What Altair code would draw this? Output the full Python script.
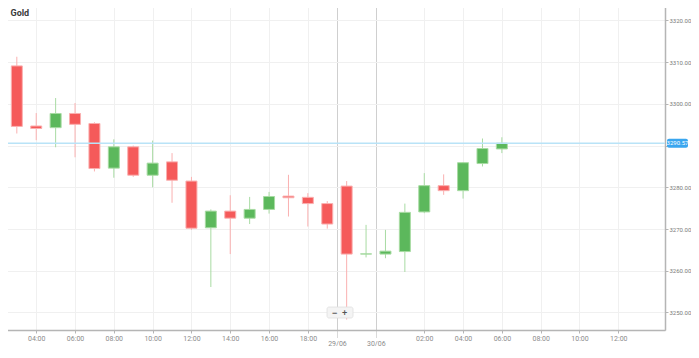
import altair as alt
import pandas as pd

# candle index (hourly bars, session gap after index 16)
candle_idx = list(range(26))
opens  = [3309.1, 3294.7, 3294.3, 3297.7, 3295.3, 3284.6, 3289.7, 3282.9, 3286.1, 3281.5,
          3270.3, 3274.3, 3272.6, 3274.7, 3277.9, 3277.6, 3276.1, 3280.3, 3264.0, 3264.0,
          3264.6, 3274.1, 3280.4, 3279.2, 3285.7, 3289.2]
highs  = [3311.3, 3297.8, 3301.4, 3300.2, 3295.6, 3291.5, 3290.0, 3291.2, 3288.2, 3282.5,
          3274.7, 3278.1, 3277.7, 3278.9, 3283.0, 3278.6, 3276.7, 3281.5, 3271.0, 3269.8,
          3276.1, 3283.4, 3283.1, 3286.0, 3291.7, 3292.0]
lows   = [3292.9, 3291.3, 3289.6, 3287.2, 3283.8, 3282.3, 3282.5, 3280.0, 3276.3, 3269.8,
          3256.1, 3264.0, 3271.2, 3273.7, 3273.0, 3270.6, 3270.1, 3248.3, 3263.2, 3263.0,
          3259.7, 3273.8, 3278.2, 3277.3, 3285.0, 3288.2]
closes = [3294.6, 3294.1, 3297.7, 3295.1, 3284.5, 3289.7, 3282.9, 3285.8, 3281.7, 3270.2,
          3274.3, 3272.6, 3274.7, 3277.8, 3277.5, 3276.1, 3271.2, 3264.0, 3264.05, 3264.7,
          3274.0, 3280.4, 3279.2, 3285.9, 3289.3, 3290.57]

tick_pos = [1, 3, 5, 7, 9, 11, 13, 15, 16.5, 18.5, 21, 23, 25, 27, 29, 31]
tick_lab = ["04:00", "06:00", "08:00", "10:00", "12:00", "14:00", "16:00", "18:00",
            "29/06", "30/06", "02:00", "04:00", "06:00", "08:00", "10:00", "12:00"]
divider_pos = [16.5, 18.5]

price_ticks = [3250, 3260, 3270, 3280, 3290, 3300, 3310, 3320]
current_price = [3290.57]
title_text = "Gold"

GREEN, RED = "#5cb85c", "#f55a5a"
GREEN_L, RED_L = "#a8dba3", "#fab0b0"

df = pd.DataFrame({"i": candle_idx, "open": opens, "high": highs, "low": lows, "close": closes})
df["dir"] = ["up" if c >= o else "down" for o, c in zip(opens, closes)]

W, H = 664, 330
x_dom = [-0.558, 33.15]
y_dom = [3245.8, 3324.9]

pos_js = "[" + ",".join(str(p) for p in tick_pos) + "]"
lab_js = "[" + ",".join("'" + l + "'" for l in tick_lab) + "]"
div_js = "[" + ",".join(str(p) for p in divider_pos) + "]"
is_div = f"indexof({div_js}, datum.value) >= 0"
hidden_price = current_price[0]

x_scale = alt.Scale(domain=x_dom, nice=False, zero=False)
y_scale = alt.Scale(domain=y_dom, nice=False, zero=False)

x_axis = alt.Axis(
    values=tick_pos,
    labelExpr=f"{lab_js}[indexof({pos_js}, datum.value)]",
    title=None,
    grid=True,
    gridColor={"condition": {"test": is_div, "value": "#cfcfcf"}, "value": "#f0f0f0"},
    gridWidth=1,
    domainColor="#b5b5b5",
    domainWidth=1.5,
    tickColor="#b5b5b5",
    tickSize={"condition": {"test": is_div, "value": 8}, "value": 3},
    tickDash={"condition": {"test": is_div, "value": [1, 1]}, "value": []},
    labelPadding=1,
    labelFontSize=7,
    labelColor="#8c8c8c",
    labelFont="Roboto",
    labelFlush=False,
    labelOverlap=False,
)

# the tick label nearest the current price is covered by the price tag in the reference
y_axis = alt.Axis(
    orient="right",
    values=price_ticks,
    labelExpr=f"abs(datum.value - {hidden_price}) < 3 ? '' : format(datum.value, '.2f')",
    title=None,
    grid=True,
    gridColor="#f0f0f0",
    domainColor="#b5b5b5",
    domainWidth=1.5,
    tickColor="#b5b5b5",
    tickSize=3,
    labelFontSize=6,
    labelColor="#7a7a7a",
    labelFont="Roboto",
    labelPadding=1,
    labelFlush=False,
    labelOverlap=False,
)

base = alt.Chart(df)

wicks = base.mark_rule(strokeWidth=1, clip=True).encode(
    x=alt.X("i:Q", scale=x_scale, axis=x_axis),
    y=alt.Y("low:Q", scale=y_scale, axis=y_axis),
    y2="high:Q",
    stroke=alt.Stroke("dir:N", scale=alt.Scale(domain=["up", "down"], range=[GREEN_L, RED_L]), legend=None),
)

bodies = base.mark_bar(size=11, strokeWidth=1, clip=True).encode(
    x=alt.X("i:Q", scale=x_scale),
    y=alt.Y("open:Q", scale=y_scale),
    y2="close:Q",
    color=alt.Color("dir:N", scale=alt.Scale(domain=["up", "down"], range=[GREEN, RED]), legend=None),
    stroke=alt.Stroke("dir:N", legend=None),
)

pdf = pd.DataFrame({"price": current_price})
pdf["label"] = [f"{p:.2f}" for p in current_price]

price_line = alt.Chart(pdf).mark_rule(color="#b9e3f7", strokeWidth=1.5).encode(
    y=alt.Y("price:Q", scale=y_scale),
)
price_box = alt.Chart(pdf).mark_rect(color="#3aa6ef", height=9, cornerRadius=2, clip=False).encode(
    y=alt.Y("price:Q", scale=y_scale),
    x=alt.value(666), x2=alt.value(687),
)
price_txt = alt.Chart(pdf).mark_text(color="white", fontSize=6, font="Roboto", align="center", baseline="middle").encode(
    y=alt.Y("price:Q", scale=y_scale),
    x=alt.value(676.5),
    text="label:N",
)

one = pd.DataFrame({"t": [title_text]})
title = alt.Chart(one).mark_text(align="left", baseline="middle", fontSize=9, fontWeight="bold",
                                 color="#3a3a3a", font="Roboto").encode(
    x=alt.value(9.5), y=alt.value(13), text="t:N")

zoom_box = alt.Chart(one).mark_rect(fill="#f4f4f4", stroke="#e0e0e0", strokeWidth=0.8, cornerRadius=2).encode(
    x=alt.value(326), x2=alt.value(352), y=alt.value(307), y2=alt.value(318))
zoom_minus = alt.Chart(one).mark_text(text="−", fontSize=9, fontWeight="bold", color="#555").encode(
    x=alt.value(333.5), y=alt.value(312.5))
zoom_plus = alt.Chart(one).mark_text(text="+", fontSize=9, fontWeight="bold", color="#555").encode(
    x=alt.value(343.5), y=alt.value(312.5))

chart = alt.layer(
    wicks, bodies, price_line, price_box, price_txt, title, zoom_box, zoom_minus, zoom_plus
).properties(
    width=W, height=H, padding={"left": -8, "top": -8, "right": 0, "bottom": 0}
).configure_view(stroke=None).configure(background="white")

chart.save("out.html", embed_options={"renderer": "svg", "actions": False})
